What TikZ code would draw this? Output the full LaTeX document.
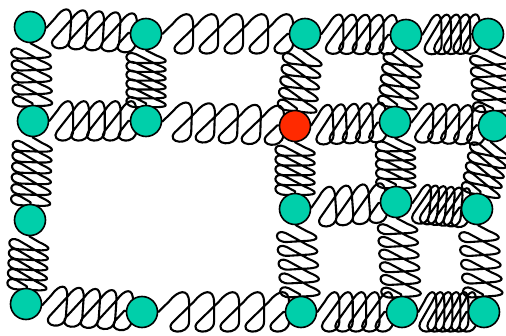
\documentclass[tikz,border=0pt]{standalone}
\usetikzlibrary{decorations,backgrounds,calc}
\definecolor{ballgreen}{RGB}{0,207,170}
\definecolor{ballred}{RGB}{255,42,0}
\def\springDk{1}\def\springDc{14}
\def\springAk{0.3}\def\springAc{2}
\pgfdeclaredecoration{skewcoil}{initial}{%
  \state{initial}[width=\pgfdecorationsegmentlength,next state=initial]{%
    \pgfmathsetmacro\sw{\pgfdecorationsegmentlength}%
    \pgfmathsetmacro\sr{\pgfdecorationsegmentamplitude}%
    \pgfmathsetmacro\hd{(\springDk*\sw+\springDc)/2}%
    \pgfmathsetmacro\xv{\hd+\springAk*\sw+\springAc}%
    \pgfpathlineto{\pgfpoint{0.55*\hd pt}{0.55*\sr pt}}%
    \pgfpathcurveto{\pgfpoint{1.0*\hd pt}{1.15*\sr pt}}{\pgfpoint{\xv pt}{1.28*\sr pt}}{\pgfpoint{\xv pt}{0.5*\sr pt}}%
    \pgfpathlineto{\pgfpoint{\xv pt}{-0.5*\sr pt}}%
    \pgfpathcurveto{\pgfpoint{\xv pt}{-1.28*\sr pt}}{\pgfpoint{\sw pt-1.05*\hd pt}{-1.12*\sr pt}}{\pgfpoint{\sw pt-0.55*\hd pt}{-0.55*\sr pt}}%
    \pgfpathlineto{\pgfpoint{\sw pt}{0pt}}%
  }%
  \state{final}{\pgfpathlineto{\pgfpointdecoratedpathlast}}%
}
\begin{document}
\begin{tikzpicture}[x=1pt,y=-1pt,
  ball/.style={circle,draw=black,line width=1.6pt,fill=ballgreen,minimum size=31pt,inner sep=0pt},
  redball/.style={ball,fill=ballred},
  springline/.style={line width=2.1pt,line join=round,line cap=round},
  sshape/.code args={#1/#2/#3/#4}{\def\springDk{#1}\def\springDc{#2}\def\springAk{#3}\def\springAc{#4}},
  hspring/.style={springline,sshape=1/14/0.25/5},
  vspring/.style={springline,sshape=1/10/0.2/1.5}]
\useasboundingbox (0,0) rectangle (506,336);
\node[ball] (a1) at (30,27) {};
\node[ball] (a2) at (146,34) {};
\node[ball] (a3) at (305,34) {};
\node[ball] (a4) at (406,35) {};
\node[ball] (a5) at (488,34) {};
\node[ball] (b1) at (33,121) {};
\node[ball] (b2) at (146,121) {};
\node[redball] (b3) at (295,126) {};
\node[ball] (b4) at (395,122) {};
\node[ball] (b5) at (494,126) {};
\node[ball] (c1) at (30,220) {};
\node[ball] (c3) at (295,209) {};
\node[ball] (c4) at (396,202) {};
\node[ball] (c5) at (477,209) {};
\node[ball] (d1) at (26,304) {};
\node[ball] (d2) at (142,312) {};
\node[ball] (d3) at (301,312) {};
\node[ball] (d4) at (402,312) {};
\node[ball] (d5) at (484,312) {};
\begin{scope}[on background layer]
\foreach \u/\v/\k in {a1/a2/5,a2/a3/5,a3/a4/5,a4/a5/5,b1/b2/5,b2/b3/5,b3/b4/5,b4/b5/5,c3/c4/4,c4/c5/6,d1/d2/5,d2/d3/5,d3/d4/5,d4/d5/6}
  \draw[hspring] let \p1=(\u), \p2=(\v), \n1={veclen(\x2-\x1,\y2-\y1)} in
    decorate[decoration={skewcoil,amplitude=19pt,segment length={(\n1-34)/\k*1pt}}] {(\u) -- (\v)};
\foreach \u/\v/\k in {a1/b1/5,b1/c1/6,c1/d1/5,a2/b2/6,a3/b3/5,b3/c3/5,c3/d3/5,a4/b4/5,b4/c4/5,c4/d4/6,a5/b5/5,b5/c5/5,c5/d5/5}
  \draw[vspring] let \p1=(\u), \p2=(\v), \n1={veclen(\x2-\x1,\y2-\y1)} in
    decorate[decoration={skewcoil,amplitude=19pt,segment length={(\n1-34)/\k*1pt}}] {(\u) -- (\v)};
\end{scope}
\end{tikzpicture}
\end{document}
